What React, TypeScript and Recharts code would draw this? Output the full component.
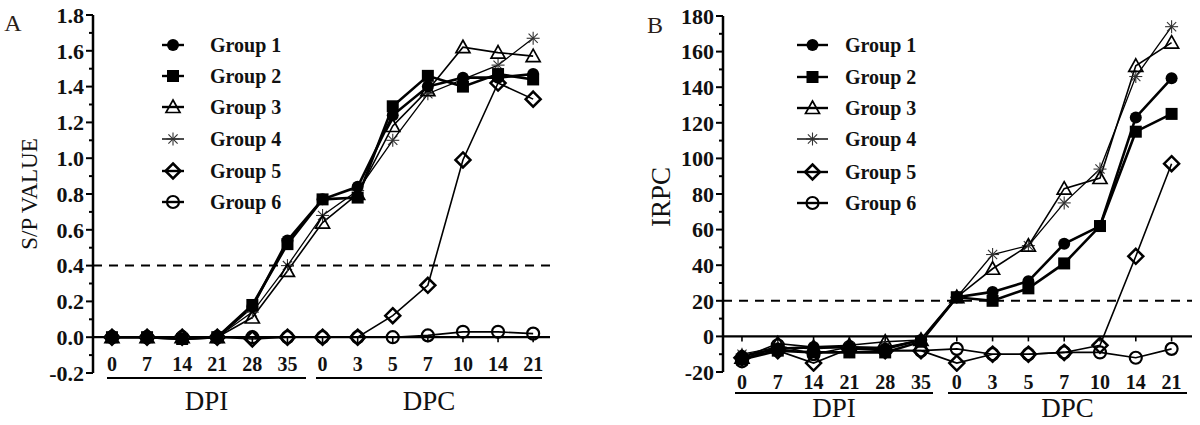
import React from 'react';
import { LineChart, Line, XAxis, YAxis, ReferenceLine } from 'recharts';

// x categories: days post infection (DPI) then days post challenge (DPC)
const categories = ['0', '7', '14', '21', '28', '35', '0', '3', '5', '7', '10', '14', '21'];
const groupNames = ['Group 1', 'Group 2', 'Group 3', 'Group 4', 'Group 5', 'Group 6'];

// Panel A: S/P value
const spGroup1 = [0, 0, -0.01, 0, 0.17, 0.54, 0.77, 0.84, 1.24, 1.4, 1.45, 1.45, 1.47];
const spGroup2 = [0, 0, -0.01, 0, 0.18, 0.52, 0.77, 0.78, 1.29, 1.46, 1.4, 1.47, 1.44];
const spGroup3 = [0, 0, 0, 0, 0.11, 0.37, 0.64, 0.8, 1.18, 1.38, 1.62, 1.59, 1.57];
const spGroup4 = [0, 0, 0, 0, 0.14, 0.4, 0.68, 0.82, 1.1, 1.36, 1.44, 1.52, 1.67];
const spGroup5 = [0, 0, 0, 0, -0.01, 0, 0, 0, 0.12, 0.29, 0.99, 1.42, 1.33];
const spGroup6 = [0, 0, 0, 0, 0, 0, 0, 0, 0, 0.01, 0.03, 0.03, 0.02];
const spTicks = [-0.2, -0.1, 0, 0.1, 0.2, 0.3, 0.4, 0.5, 0.6, 0.7, 0.8, 0.9, 1.0, 1.1, 1.2, 1.3, 1.4, 1.5, 1.6, 1.7, 1.8];
const spCutoff = 0.4;

// Panel B: IRPC
const irpcGroup1 = [-11, -7, -6, -6, -7, -2, 22, 25, 31, 52, 62, 123, 145];
const irpcGroup2 = [-13, -8, -9, -9, -9, -3, 22, 20, 27, 41, 62, 115, 125];
const irpcGroup3 = [-12, -4, -6, -5, -3, -2, 22, 38, 51, 83, 89, 152, 165];
const irpcGroup4 = [-10, -6, -7, -6, -6, -2, 22, 46, 51, 75, 94, 146, 174];
const irpcGroup5 = [-12, -8, -15, -7, -8, -8, -15, -10, -10, -9, -5, 45, 97];
const irpcGroup6 = [-14, -5, -10, -6, -8, -8, -7, -10, -10, -9, -9, -12, -7];
const irpcTicks = [-20, -10, 0, 10, 20, 30, 40, 50, 60, 70, 80, 90, 100, 110, 120, 130, 140, 150, 160, 170, 180];
const irpcCutoff = 20;

const SERIF = '"Liberation Serif", "Times New Roman", serif';
const kinds = ['circle', 'square', 'triangle', 'star', 'diamond', 'ring'];
const widths = [2.6, 2.6, 1.6, 1.3, 1.6, 1.6];

function Marker({ kind, cx, cy }: { kind: string; cx: number; cy: number }) {
  if (cx == null || cy == null) return null;
  switch (kind) {
    case 'circle':
      return <circle cx={cx} cy={cy} r={6} fill="#000" />;
    case 'square':
      return <rect x={cx - 6} y={cy - 6} width={12} height={12} fill="#000" />;
    case 'triangle':
      return (
        <path
          d={`M${cx},${cy - 7} L${cx + 7},${cy + 5.5} L${cx - 7},${cy + 5.5} Z`}
          fill="none"
          stroke="#000"
          strokeWidth={1.7}
        />
      );
    case 'star': {
      const r = 6.5;
      const d = r * 0.707;
      return (
        <g stroke="#333" strokeWidth={1.1}>
          <line x1={cx - r} y1={cy} x2={cx + r} y2={cy} />
          <line x1={cx} y1={cy - r} x2={cx} y2={cy + r} />
          <line x1={cx - d} y1={cy - d} x2={cx + d} y2={cy + d} />
          <line x1={cx - d} y1={cy + d} x2={cx + d} y2={cy - d} />
        </g>
      );
    }
    case 'diamond':
      return (
        <path
          d={`M${cx},${cy - 7.5} L${cx + 7.5},${cy} L${cx},${cy + 7.5} L${cx - 7.5},${cy} Z`}
          fill="none"
          stroke="#000"
          strokeWidth={2.5}
        />
      );
    default:
      return <circle cx={cx} cy={cy} r={6} fill="none" stroke="#000" strokeWidth={2.2} />;
  }
}

interface PanelProps {
  left: number;
  letter: string;
  letterX: number;
  letterY: number;
  yLabel: string;
  yLabelSize: number;
  yLabelX: number;
  yLabelY: number;
  series: number[][];
  yTicks: number[];
  yDomain: [number, number];
  isMajor: (v: number) => boolean;
  fmt: (v: number) => string;
  cutoff: number;
  yAxisWidth: number;
  top: number;
  right: number;
  bottom: number;
  xDomain: [number, number];
  xTickDy: number;
  legendX: number;
  legendLine: number;
  legendTextX: number;
  legendRows: number[];
  bars: { x1: number; x2: number; label: string }[];
  barY: number;
  barLabelY: number;
}

function Panel(p: PanelProps) {
  const data = categories.map((c, i) => {
    const row: any = { i, cat: c };
    p.series.forEach((s, k) => (row['g' + (k + 1)] = s[i]));
    return row;
  });
  const plotH = 425 - p.top - p.bottom;
  const tickLen = (5 * (p.yDomain[1] - p.yDomain[0])) / plotH;

  const YTick = (props: any) => {
    const { x, y, payload } = props;
    const major = p.isMajor(payload.value);
    return (
      <g>
        <line x1={x - (major ? 7 : 4)} x2={x} y1={y} y2={y} stroke="#000" strokeWidth={2} />
        {major && (
          <text
            x={x - 9}
            y={y}
            dy="0.35em"
            textAnchor="end"
            fontFamily={SERIF}
            fontWeight="bold"
            fontSize={22}
            fill="#111"
          >
            {p.fmt(payload.value)}
          </text>
        )}
      </g>
    );
  };

  const XTick = (props: any) => {
    const { x, y, payload } = props;
    return (
      <text
        x={x}
        y={y + p.xTickDy}
        dy="0.35em"
        textAnchor="middle"
        fontFamily={SERIF}
        fontWeight="bold"
        fontSize={20}
        fill="#111"
      >
        {categories[payload.value]}
      </text>
    );
  };

  const order = [5, 4, 3, 2, 1, 0];

  return (
    <div style={{ position: 'absolute', left: p.left, top: 0, width: 600, height: 425 }}>
      <LineChart
        width={600}
        height={425}
        data={data}
        margin={{ top: p.top, right: p.right, bottom: 0, left: 0 }}
      >
        <XAxis
          dataKey="i"
          type="number"
          domain={p.xDomain}
          allowDataOverflow
          ticks={categories.map((_, i) => i)}
          interval={0}
          axisLine={false}
          tickLine={false}
          tickSize={0}
          tickMargin={0}
          height={p.bottom}
          tick={<XTick />}
        />
        <YAxis
          type="number"
          domain={p.yDomain}
          allowDataOverflow
          ticks={p.yTicks}
          interval={0}
          width={p.yAxisWidth}
          axisLine={{ stroke: '#000', strokeWidth: 2.5 }}
          tickLine={false}
          tickSize={0}
          tickMargin={0}
          tick={<YTick />}
        />
        <ReferenceLine y={p.cutoff} stroke="#000" strokeWidth={2} strokeDasharray="9 7" />
        <ReferenceLine y={0} stroke="#000" strokeWidth={2.2} />
        {categories.map((_, i) => (
          <ReferenceLine
            key={'t' + i}
            segment={[
              { x: i, y: 0 },
              { x: i, y: -tickLen },
            ]}
            stroke="#000"
            strokeWidth={1.6}
          />
        ))}
        {order.map((k) => (
          <Line
            key={k}
            type="linear"
            dataKey={'g' + (k + 1)}
            stroke="#000"
            strokeWidth={widths[k]}
            isAnimationActive={false}
            activeDot={false}
            dot={(dp: any) => <Marker key={'d' + k + '-' + dp.index} kind={kinds[k]} cx={dp.cx} cy={dp.cy} />}
          />
        ))}
      </LineChart>

      {/* panel letter and y title */}
      <div
        style={{
          position: 'absolute',
          left: p.letterX,
          top: p.letterY,
          transform: 'translate(-50%, -50%)',
          fontFamily: SERIF,
          fontSize: 24,
          color: '#2a2018',
        }}
      >
        {p.letter}
      </div>
      <div
        style={{
          position: 'absolute',
          left: p.yLabelX,
          top: p.yLabelY,
          transform: 'translate(-50%, -50%) rotate(-90deg)',
          fontFamily: SERIF,
          fontSize: p.yLabelSize,
          whiteSpace: 'nowrap',
          color: '#111',
        }}
      >
        {p.yLabel}
      </div>

      {/* legend */}
      {groupNames.map((name, k) => (
        <div key={name}>
          <svg
            style={{ position: 'absolute', left: p.legendX - 20, top: p.legendRows[k] - 10 }}
            width={p.legendLine + 40}
            height={20}
          >
            <line
              x1={20}
              x2={20 + p.legendLine}
              y1={10}
              y2={10}
              stroke="#000"
              strokeWidth={k === 3 ? 1.4 : 2.4}
            />
            <Marker kind={kinds[k]} cx={20 + p.legendLine / 2} cy={10} />
          </svg>
          <div
            style={{
              position: 'absolute',
              left: p.legendTextX,
              top: p.legendRows[k],
              transform: 'translateY(-50%)',
              fontFamily: SERIF,
              fontWeight: 'bold',
              fontSize: 20,
              whiteSpace: 'nowrap',
              color: '#111',
              lineHeight: 1,
            }}
          >
            {name}
          </div>
        </div>
      ))}

      {/* DPI / DPC brackets */}
      {p.bars.map((b) => (
        <div key={b.label}>
          <div
            style={{
              position: 'absolute',
              left: b.x1,
              top: p.barY - 1.25,
              width: b.x2 - b.x1,
              height: 2.5,
              background: '#000',
            }}
          />
          <div
            style={{
              position: 'absolute',
              left: (b.x1 + b.x2) / 2,
              top: p.barLabelY,
              transform: 'translate(-50%, -50%)',
              fontFamily: SERIF,
              fontSize: 27,
              lineHeight: 1,
              color: '#111',
            }}
          >
            {b.label}
          </div>
        </div>
      ))}
    </div>
  );
}

export default function App() {
  return (
    <div style={{ position: 'relative', width: 1200, height: 425, background: '#fff', overflow: 'hidden' }}>
      <style>{'body{margin:0}'}</style>
      <Panel
        left={0}
        letter="A"
        letterX={13}
        letterY={23}
        yLabel="S/P VALUE"
        yLabelSize={23}
        yLabelX={30}
        yLabelY={194}
        series={[spGroup1, spGroup2, spGroup3, spGroup4, spGroup5, spGroup6]}
        yTicks={spTicks}
        yDomain={[-0.2, 1.8]}
        isMajor={(v) => Math.round(v * 10) % 2 === 0}
        fmt={(v) => v.toFixed(1)}
        cutoff={spCutoff}
        yAxisWidth={93}
        top={15}
        right={50}
        bottom={52}
        xDomain={[-0.54, 12.48]}
        xTickDy={-9}
        legendX={162}
        legendLine={22}
        legendTextX={210}
        legendRows={[45, 76, 107, 139, 171, 202]}
        bars={[
          { x1: 107, x2: 306, label: 'DPI' },
          { x1: 316, x2: 542, label: 'DPC' },
        ]}
        barY={378}
        barLabelY={401}
      />
      <Panel
        left={600}
        letter="B"
        letterX={55}
        letterY={25}
        yLabel="IRPC"
        yLabelSize={27}
        yLabelX={61}
        yLabelY={197}
        series={[irpcGroup1, irpcGroup2, irpcGroup3, irpcGroup4, irpcGroup5, irpcGroup6]}
        yTicks={irpcTicks}
        yDomain={[-20, 180]}
        isMajor={(v) => v % 20 === 0}
        fmt={(v) => String(v)}
        cutoff={irpcCutoff}
        yAxisWidth={123}
        top={16}
        right={8}
        bottom={53}
        xDomain={[-0.53, 12.57]}
        xTickDy={10}
        legendX={197}
        legendLine={31}
        legendTextX={245}
        legendRows={[45, 77, 108, 139, 172, 203]}
        bars={[
          { x1: 135, x2: 333, label: 'DPI' },
          { x1: 348, x2: 587, label: 'DPC' },
        ]}
        barY={393}
        barLabelY={408}
      />
    </div>
  );
}
